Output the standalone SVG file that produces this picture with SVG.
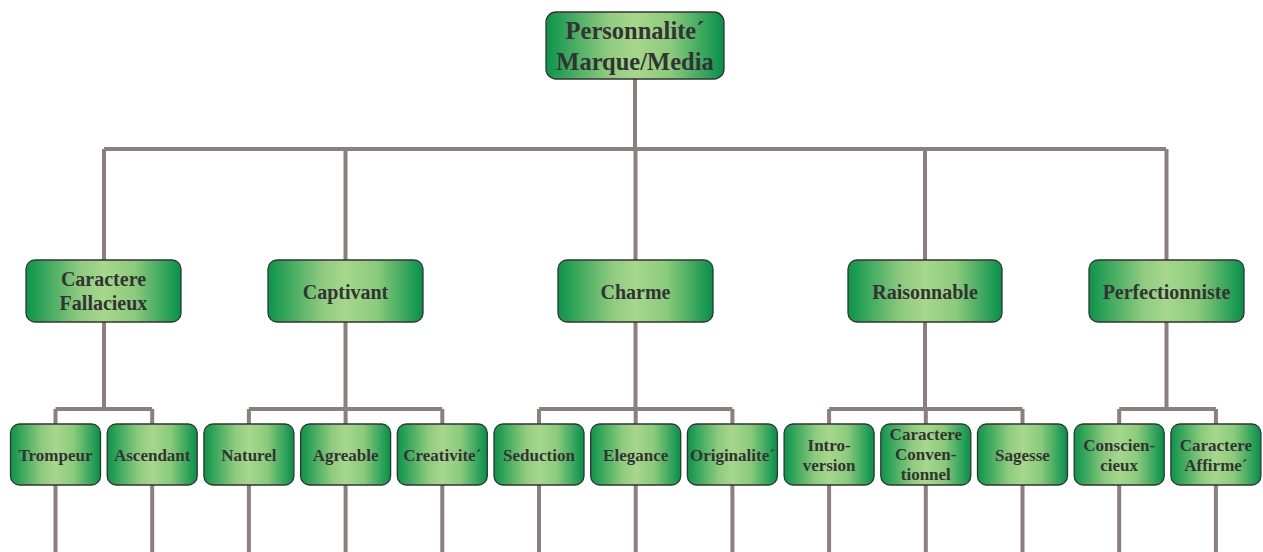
<svg xmlns="http://www.w3.org/2000/svg" width="1263" height="552" viewBox="0 0 1263 552">
<defs>
<linearGradient id="g" x1="0" y1="0" x2="1" y2="0">
<stop offset="0" stop-color="#0b944a"/>
<stop offset="0.35" stop-color="#8fcb7f"/>
<stop offset="0.5" stop-color="#a6d78d"/>
<stop offset="0.7" stop-color="#8ccb7c"/>
<stop offset="1" stop-color="#05904a"/>
</linearGradient>
</defs>
<style>
.b{fill:url(#g);stroke:#333;stroke-width:1.3}
.t{font-family:"Liberation Serif","Times New Roman",serif;font-weight:bold;fill:#333;text-anchor:middle}
.r{font-size:24.5px}
.m{font-size:20px}
.s{font-size:17px}
.c{fill:none;stroke:#8c7f7f;stroke-width:4}
</style>
<g id="connectors">
<path class="c" d="M635 79V149M104 149H1166M104 149V260M345.5 149V260M635.5 149V260M925 149V260M1166.5 149V260"/>
<path class="c" d="M104 322V409M55.5 409H152.2M55.5 409V424M152.2 409V424"/>
<path class="c" d="M345.5 322V409M248.9 409H442.3M248.9 409V424M345.6 409V424M442.3 409V424"/>
<path class="c" d="M635.5 322V409M539 409H732.4M539 409V424M635.7 409V424M732.4 409V424"/>
<path class="c" d="M925 322V409M829.1 409H1022.5M829.1 409V424M925.8 409V424M1022.5 409V424"/>
<path class="c" d="M1166.5 322V409M1119.2 409H1215.9M1119.2 409V424M1215.9 409V424"/>
<path class="c" d="M55.5 485V552M152.2 485V552M248.9 485V552M345.6 485V552M442.3 485V552M539 485V552M635.7 485V552M732.4 485V552M829.1 485V552M925.8 485V552M1022.5 485V552M1119.2 485V552M1215.9 485V552"/>
</g>
<g id="root"><rect class="b" x="546" y="12" width="178" height="67" rx="10"/><text class="t r" x="635" y="39">Personnalite´</text><text class="t r" x="635" y="70">Marque/Media</text></g>
<g id="n1"><rect class="b" x="26" y="260" width="155" height="62" rx="9"/><text class="t m" x="103.5" y="286">Caractere</text><text class="t m" x="103.5" y="310">Fallacieux</text></g>
<g id="n2"><rect class="b" x="268" y="260" width="155" height="62" rx="9"/><text class="t m" x="345.5" y="299">Captivant</text></g>
<g id="n3"><rect class="b" x="558" y="260" width="155" height="62" rx="9"/><text class="t m" x="635.5" y="299">Charme</text></g>
<g id="n4"><rect class="b" x="848" y="260" width="154" height="62" rx="9"/><text class="t m" x="925" y="299">Raisonnable</text></g>
<g id="n5"><rect class="b" x="1089" y="260" width="155" height="62" rx="9"/><text class="t m" x="1166.5" y="299">Perfectionniste</text></g>
<g id="l1"><rect class="b" x="10.5" y="424" width="90" height="61" rx="9"/><text class="t s" x="55.5" y="461">Trompeur</text></g>
<g id="l2"><rect class="b" x="107.2" y="424" width="90" height="61" rx="9"/><text class="t s" x="152.2" y="461">Ascendant</text></g>
<g id="l3"><rect class="b" x="203.9" y="424" width="90" height="61" rx="9"/><text class="t s" x="248.9" y="461">Naturel</text></g>
<g id="l4"><rect class="b" x="300.6" y="424" width="90" height="61" rx="9"/><text class="t s" x="345.6" y="461">Agreable</text></g>
<g id="l5"><rect class="b" x="397.3" y="424" width="90" height="61" rx="9"/><text class="t s" x="442.3" y="461">Creativite´</text></g>
<g id="l6"><rect class="b" x="494" y="424" width="90" height="61" rx="9"/><text class="t s" x="539" y="461">Seduction</text></g>
<g id="l7"><rect class="b" x="590.7" y="424" width="90" height="61" rx="9"/><text class="t s" x="635.7" y="461">Elegance</text></g>
<g id="l8"><rect class="b" x="687.4" y="424" width="90" height="61" rx="9"/><text class="t s" x="732.4" y="461">Originalite´</text></g>
<g id="l9"><rect class="b" x="784.1" y="424" width="90" height="61" rx="9"/><text class="t s" x="829.1" y="451">Intro-</text><text class="t s" x="829.1" y="471">version</text></g>
<g id="l10"><rect class="b" x="880.8" y="424" width="90" height="61" rx="9"/><text class="t s" x="925.8" y="440">Caractere</text><text class="t s" x="925.8" y="460">Conven-</text><text class="t s" x="925.8" y="480">tionnel</text></g>
<g id="l11"><rect class="b" x="977.5" y="424" width="90" height="61" rx="9"/><text class="t s" x="1022.5" y="461">Sagesse</text></g>
<g id="l12"><rect class="b" x="1074.2" y="424" width="90" height="61" rx="9"/><text class="t s" x="1119.2" y="451">Conscien-</text><text class="t s" x="1119.2" y="471">cieux</text></g>
<g id="l13"><rect class="b" x="1170.9" y="424" width="90" height="61" rx="9"/><text class="t s" x="1215.9" y="451">Caractere</text><text class="t s" x="1215.9" y="471">Affirme´</text></g>
</svg>
